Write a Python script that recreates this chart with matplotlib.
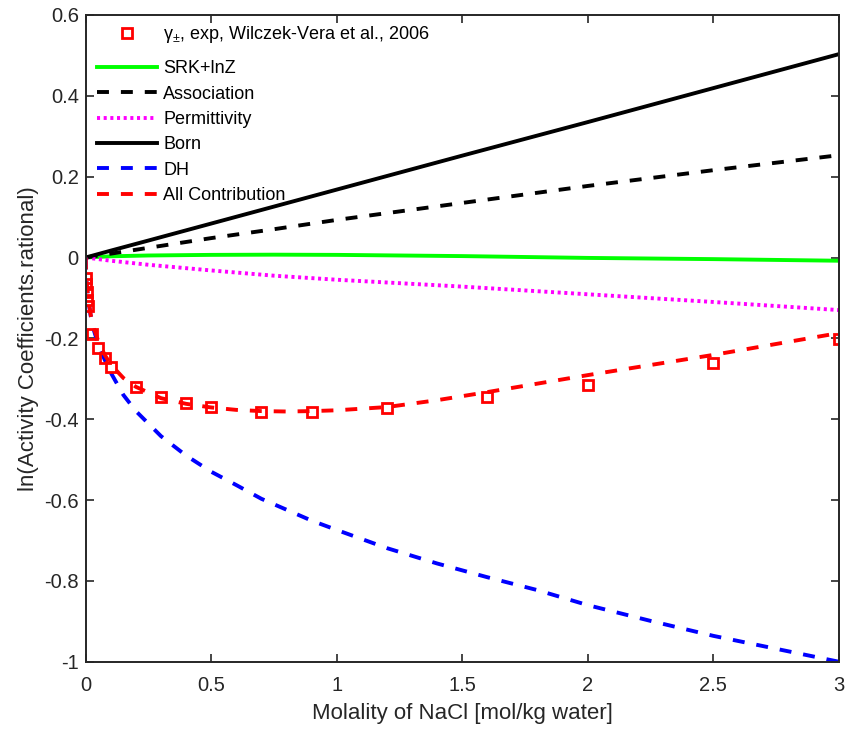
import matplotlib
matplotlib.use('Agg')
import matplotlib.pyplot as plt

plt.rcParams['font.family'] = ['Liberation Sans', 'DejaVu Sans']
plt.rcParams['axes.unicode_minus'] = False
plt.rcParams['lines.scale_dashes'] = False
plt.rcParams['mathtext.fontset'] = 'custom'
plt.rcParams['mathtext.rm'] = 'Liberation Sans'

# experimental points (Wilczek-Vera et al., 2006)
exp_m = [0.001, 0.002, 0.004, 0.007, 0.01, 0.025, 0.05, 0.075, 0.1, 0.2, 0.3,
         0.4, 0.5, 0.7, 0.9, 1.2, 1.6, 2.0, 2.5, 3.0]
exp_ln = [-0.05, -0.065, -0.085, -0.105, -0.12, -0.19, -0.225, -0.248, -0.272,
          -0.32, -0.345, -0.36, -0.37, -0.383, -0.383, -0.372, -0.346, -0.316,
          -0.262, -0.202]

# smooth contributions, coarse molality grid
m_coarse = [0, 0.1, 0.25, 0.5, 0.75, 1.0, 1.5, 2.0, 2.5, 3.0]
srk = [0, 0.003, 0.005, 0.0065, 0.007, 0.0065, 0.0035, -0.001, -0.004, -0.008]
assoc = [0, 0.0095, 0.024, 0.048, 0.070, 0.093, 0.135, 0.177, 0.216, 0.253]
perm = [0, -0.008, -0.018, -0.032, -0.045, -0.055, -0.072, -0.091, -0.110, -0.130]
born = [0, 0.017, 0.042, 0.084, 0.126, 0.168, 0.252, 0.335, 0.419, 0.503]

# DH and total, fine grid (steep near zero)
m_fine = [0, 0.001, 0.002, 0.005, 0.01, 0.02, 0.03, 0.05, 0.075, 0.1, 0.15, 0.2,
          0.3, 0.4, 0.5, 0.6, 0.7, 0.8, 0.9, 1.0, 1.2, 1.4, 1.6, 1.8, 2.0, 2.25,
          2.5, 2.75, 3.0]
dh = [0, -0.033, -0.046, -0.073, -0.103, -0.145, -0.175, -0.215, -0.252, -0.285,
      -0.34, -0.38, -0.442, -0.49, -0.53, -0.563, -0.597, -0.624, -0.651, -0.674,
      -0.719, -0.757, -0.791, -0.823, -0.86, -0.899, -0.936, -0.968, -1.0]
allc = [0, -0.033, -0.046, -0.072, -0.101, -0.142, -0.17, -0.207, -0.24, -0.265,
        -0.298, -0.32, -0.348, -0.362, -0.371, -0.377, -0.38, -0.381, -0.38, -0.378,
        -0.37, -0.353, -0.333, -0.312, -0.291, -0.266, -0.241, -0.214, -0.187]

xticks = [0, 0.5, 1, 1.5, 2, 2.5, 3]
xtick_labels = ['0', '0.5', '1', '1.5', '2', '2.5', '3']
yticks = [-1, -0.8, -0.6, -0.4, -0.2, 0, 0.2, 0.4, 0.6]
ytick_labels = ['-1', '-0.8', '-0.6', '-0.4', '-0.2', '0', '0.2', '0.4', '0.6']

axc = '#262626'
lw = 2.8
dash = (8.6, 8.6)
dot = (2.2, 2.6)

fig = plt.figure(figsize=(8.46, 7.31), dpi=100)
ax = fig.add_axes([0.1013, 0.0948, 0.8901, 0.8847])

h_srk, = ax.plot(m_coarse, srk, color='#00ff00', lw=lw, label='SRK+lnZ')
h_as, = ax.plot(m_coarse, assoc, color='k', lw=lw, dashes=dash, label='Association')
h_pe, = ax.plot(m_coarse, perm, color='#ff00ff', lw=lw, dashes=dot, label='Permittivity')
h_bo, = ax.plot(m_coarse, born, color='k', lw=lw, label='Born')
h_dh, = ax.plot(m_fine, dh, color='#0000ff', lw=lw, dashes=dash, label='DH')
h_all, = ax.plot(m_fine, allc, color='#ff0000', lw=lw, dashes=dash, label='All Contribution')
h_exp, = ax.plot(exp_m, exp_ln, 's', color='#ff0000', mfc='none', ms=7.5, mew=2,
                 label='γ$_{\\pm}$, exp, Wilczek-Vera et al., 2006')

ax.set_xlim(0, 3)
ax.set_ylim(-1, 0.6)
ax.set_xticks(xticks)
ax.set_xticklabels(xtick_labels)
ax.set_yticks(yticks)
ax.set_yticklabels(ytick_labels)
ax.tick_params(direction='in', top=True, right=True, length=5.8, width=1.2,
               labelsize=14.5, colors=axc)
ax.tick_params(axis='x', pad=10)
ax.tick_params(axis='y', pad=5)
for s in ax.spines.values():
    s.set_linewidth(1.4)
    s.set_color(axc)

ax.set_xlabel('Molality of NaCl [mol/kg water]', fontsize=16, color=axc, labelpad=6)
ax.set_ylabel('ln(Activity Coefficients.rational)', fontsize=16, color=axc)

leg_opts = dict(loc='upper left', frameon=False, fontsize=13, handlelength=3.34,
                handletextpad=0.35, borderpad=0, borderaxespad=0)
leg1 = ax.legend(handles=[h_exp], bbox_to_anchor=(0.0146, 0.9857), **leg_opts)
ax.add_artist(leg1)
ax.legend(handles=[h_srk, h_as, h_pe, h_bo, h_dh, h_all],
          bbox_to_anchor=(0.0146, 0.9298), labelspacing=0.46, **leg_opts)

fig.savefig('out.png', dpi=100)
